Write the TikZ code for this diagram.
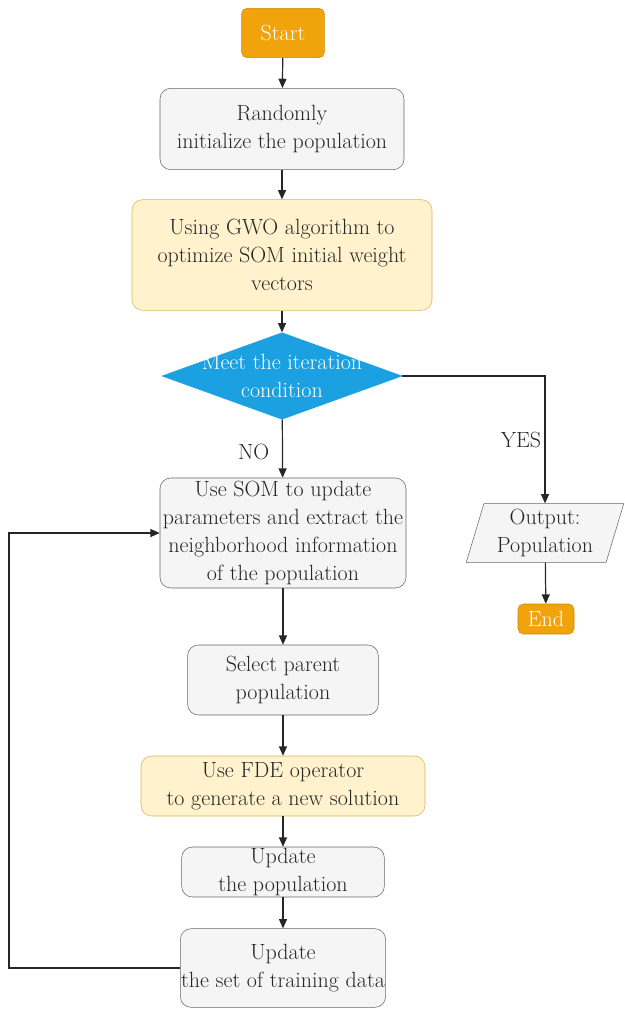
\documentclass[tikz,border=0pt]{standalone}
\usetikzlibrary{shapes.geometric,arrows.meta}

\definecolor{orangefill}{HTML}{F0A30A}
\definecolor{orangeline}{HTML}{C98A0C}
\definecolor{grayfill}{HTML}{F5F5F5}
\definecolor{grayline}{HTML}{666666}
\definecolor{yellowfill}{HTML}{FFF2CC}
\definecolor{yellowline}{HTML}{D6B656}
\definecolor{bluefill}{HTML}{1BA1E2}
\definecolor{textgray}{HTML}{262626}

\begin{document}
\begin{tikzpicture}[x=0.75pt,y=-0.75pt,
    every node/.style={font=\fontsize{16.5}{21}\selectfont, text=textgray, align=center, inner sep=0.5pt},
    terminal/.style={rectangle, rounded corners=4pt, fill=orangefill, draw=orangeline, text=white},
    process/.style={rectangle, rounded corners=8pt, fill=grayfill, draw=grayline},
    highlight/.style={rectangle, rounded corners=8pt, fill=yellowfill, draw=yellowline},
    decision/.style={diamond, fill=bluefill, draw=bluefill, inner sep=0pt},
    io/.style={trapezium, trapezium left angle=74, trapezium right angle=106, trapezium stretches=true, fill=grayfill, draw=grayline},
    link/.style={draw=black!85, line width=0.9pt, -{Triangle[length=7pt,width=6pt]}}]
  \useasboundingbox (0,0) rectangle (624,1009);

  \node[terminal, minimum width=62pt, minimum height=37pt] (start) at (283,33) {Start};
  \node[process, minimum width=183pt, minimum height=61pt] (rand) at (282,129) {Randomly\\initialize the population};
  \node[highlight, minimum width=225pt, minimum height=83pt] (gwo) at (282,255) {Using GWO algorithm to\\optimize SOM initial weight\\vectors};
  \node[decision, minimum width=180pt, minimum height=65pt] (cond) at (282,376) {};
  \node[text=white] (condtxt) at (282,376) {Meet the iteration\\condition};
  \node[process, minimum width=184.5pt, minimum height=82.5pt] (som) at (283,533) {Use SOM to update\\parameters and extract the\\neighborhood information\\of the population};
  \node[io, minimum width=118.5pt, minimum height=44pt] (out) at (545,533) {Output:\\Population};
  \node[terminal, minimum width=42pt, minimum height=22.5pt] (end) at (546,619) {End};
  \node[process, minimum width=143pt, minimum height=52.5pt] (sel) at (283,680) {Select parent\\population};
  \node[highlight, minimum width=213pt, minimum height=45pt] (fde) at (283,786) {Use FDE operator\\to generate a new solution};
  \node[process, minimum width=152pt, minimum height=37.5pt] (upop) at (283,872) {Update\\the population};
  \node[process, minimum width=152pt, minimum height=59pt] (utrain) at (283,968) {Update\\the set of training data};
  \coordinate (back) at (9,968);

  \draw[link] (start) -- (rand);
  \draw[link] (rand) -- (gwo);
  \draw[link] (gwo) -- (cond);
  \draw[link] (cond) -- node[pos=0.55, left=9pt] (no) {NO} (som);
  \draw[link] (cond.east) -| node[pos=0.75, left=2pt] (yes) {YES} (out.north);
  \draw[link] (out) -- (end);
  \draw[link] (som) -- (sel);
  \draw[link] (sel) -- (fde);
  \draw[link] (fde) -- (upop);
  \draw[link] (upop) -- (utrain);
  \draw[link] (utrain.west) -- (back) |- (som.west);
\end{tikzpicture}
\end{document}
